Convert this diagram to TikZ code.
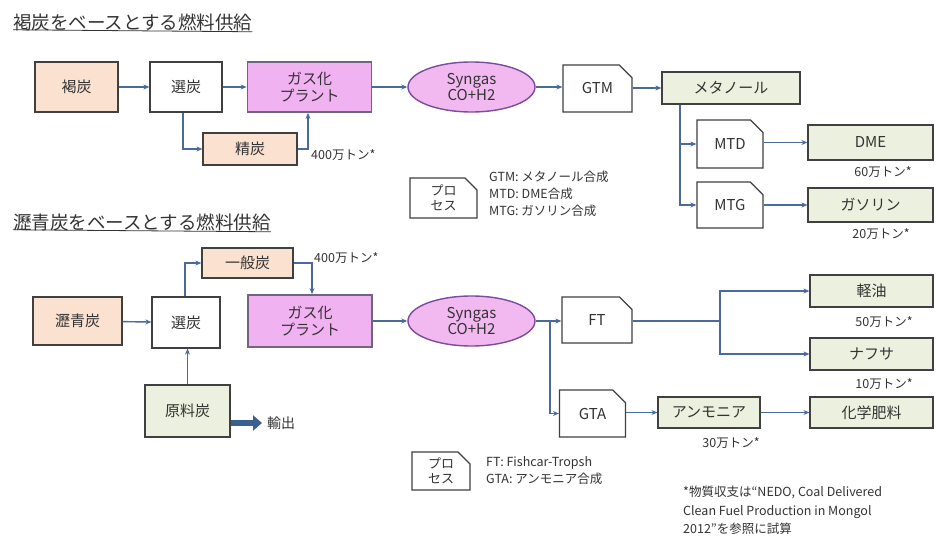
\documentclass[tikz,border=0pt]{standalone}
\usepackage{fontspec}
\setmainfont{Noto Sans CJK JP}
\usetikzlibrary{shapes.geometric,shapes.misc,arrows.meta}
\definecolor{peach}{HTML}{FBE2D0}
\definecolor{greenc}{HTML}{EBF1DE}
\definecolor{gasfill}{HTML}{F0B2F0}
\definecolor{gasborder}{HTML}{6F6482}
\definecolor{synfill}{HTML}{F2B8F0}
\definecolor{synborder}{HTML}{7A4C9C}
\definecolor{boxc}{HTML}{404040}
\definecolor{arrc}{HTML}{4A6A9C}
\definecolor{bigarr}{HTML}{3A5F92}
\definecolor{txt}{HTML}{333333}
\tikzset{
  x=1pt,y=-1pt,
  sz/.style 2 args={minimum width=#1pt,minimum height=#2pt},
  bx/.style={draw=boxc,line width=1.2pt,inner sep=0pt,text=txt,font=\fontsize{15}{17}\selectfont,align=center},
  peachbox/.style={bx,fill=peach},
  greenbox/.style={bx,fill=greenc},
  whitebox/.style={bx,fill=white},
  gasbox/.style={bx,fill=gasfill,draw=gasborder,line width=1.8pt},
  proc/.style={bx,fill=white,chamfered rectangle,chamfered rectangle corners=north east,chamfered rectangle xsep=7pt,chamfered rectangle ysep=7pt},
  syn/.style={ellipse,draw=synborder,fill=synfill,line width=1.4pt,inner sep=0pt,text=txt,font=\fontsize{15}{16}\selectfont,align=center},
  flow/.style={draw=arrc,line width=1.4pt,-{Stealth[length=6pt,width=5pt]}},
  plain/.style={draw=arrc,line width=1.4pt},
  bigflow/.style={draw=bigarr,line width=6pt,-{Triangle[length=9pt,width=15pt]}},
  lbl/.style={font=\fontsize{12.5}{14}\selectfont,text=txt,inner sep=0pt},
  ttl/.style={font=\fontsize{18.5}{20}\selectfont,text=txt,inner sep=0pt,anchor=west},
  legtxt/.style={font=\fontsize{12.5}{17}\selectfont,text=txt,inner sep=0pt,align=left,anchor=west},
}
\begin{document}
\begin{tikzpicture}
\useasboundingbox (0,0) rectangle (936,537);
\fill[white] (0,0) rectangle (936,537);

% titles
\node[ttl] (t1) at (13,22) {褐炭をベースとする燃料供給};
\draw[txt,line width=0.8pt] (t1.south west) ++(0,-1) -- ([yshift=-1pt]t1.south east);
\node[ttl] (t2) at (13,222) {瀝青炭をベースとする燃料供給};
\draw[txt,line width=0.8pt] (t2.south west) ++(0,-1) -- ([yshift=-1pt]t2.south east);

% ---------- top section ----------
\node[peachbox,sz={83}{50}] (kat) at (76.5,87) {褐炭};
\node[whitebox,sz={72}{50}] (sen1) at (186,87) {選炭};
\node[gasbox,sz={124}{50}] (gas1) at (309.5,87) {ガス化\\プラント};
\node[syn,sz={127}{50}] (syn1) at (471.5,87) {Syngas\\CO+H2};
\node[proc,sz={69}{47}] (gtm) at (597.5,88.5) {GTM};
\node[greenbox,sz={138}{32}] (meth) at (731,88) {メタノール};
\node[peachbox,sz={94}{32}] (sei) at (250,149) {精炭};
\node[lbl,anchor=west] (l400a) at (311,155) {400万トン*};
\node[proc,sz={66}{48}] (mtd) at (730,144) {MTD};
\node[greenbox,sz={125}{35}] (dme) at (870.5,142.5) {DME};
\node[lbl] (l60) at (883,172) {60万トン*};
\node[proc,sz={66}{46}] (mtg) at (730,205) {MTG};
\node[greenbox,sz={125}{34}] (gaso) at (870.5,205) {ガソリン};
\node[lbl] (l20) at (881,234) {20万トン*};

\draw[flow] (kat) -- (sen1);
\draw[flow] (sen1) -- (gas1);
\draw[flow] (gas1) -- (syn1);
\draw[flow] (syn1.east) -- (syn1.east -| gtm.west);
\draw[flow] (gtm.east |- meth.west) -- (meth.west);
\draw[flow] ([xshift=-3pt]sen1.south) |- (sei.west);
\draw[flow] (sei.east) -| ([xshift=-1.5pt]gas1.south);
\draw[flow] ([xshift=-51pt]meth.south) |- (mtd.west);
\draw[flow] ([xshift=-51pt]meth.south) |- (mtg.west);
\draw[flow] (mtd.east |- dme.west) -- (dme.west);
\draw[flow] (mtg.east) -- (gaso.west);

% legend 1
\node[proc,sz={67}{40},font=\fontsize{13}{15}\selectfont,chamfered rectangle xsep=6pt,chamfered rectangle ysep=6pt] (leg1) at (443.5,198) {プロ\\セス};
\node[legtxt] (leg1t) at (489,194) {GTM: メタノール合成\\MTD: DME合成\\MTG: ガソリン合成};

% ---------- bottom section ----------
\node[peachbox,sz={91}{30}] (ippan) at (247.5,263) {一般炭};
\node[lbl,anchor=west] (l400b) at (314,258) {400万トン*};
\node[peachbox,sz={89}{48}] (reki) at (77.5,321) {瀝青炭};
\node[whitebox,sz={68}{51}] (sen2) at (186,322.5) {選炭};
\node[gasbox,sz={124}{52}] (gas2) at (310,321) {ガス化\\プラント};
\node[syn,sz={127}{50}] (syn2) at (471.5,321) {Syngas\\CO+H2};
\node[greenbox,sz={85}{52}] (genryo) at (187.5,411) {原料炭};
\coordinate (exend) at (262,423);
\node[lbl,font=\fontsize{14}{16}\selectfont,anchor=west] (yu) at (267,423) {輸出};
\node[proc,sz={70}{46}] (ft) at (597,320) {FT};
\node[proc,sz={66}{47}] (gta) at (592.5,413.5) {GTA};
\node[greenbox,sz={123}{32}] (keiyu) at (871.5,291) {軽油};
\node[lbl] (l50) at (884,322) {50万トン*};
\node[greenbox,sz={123}{32}] (nafusa) at (871.5,354) {ナフサ};
\node[lbl] (l10) at (884,384) {10万トン*};
\node[greenbox,sz={102}{31}] (amm) at (709,412.5) {アンモニア};
\node[greenbox,sz={123}{31}] (kagaku) at (871.5,412.5) {化学肥料};
\node[lbl] (l30) at (731,443) {30万トン*};

\coordinate (br) at (550,321);
\coordinate (fb) at (720,321);
\draw[flow] (reki) -- (sen2);
\draw[flow] ([xshift=-1pt]sen2.north) |- (ippan.west);
\draw[flow] (ippan.east) -| ([xshift=2pt]gas2.north);
\draw[flow] (genryo.north) -- (genryo.north |- sen2.south);
\draw[flow] (gas2) -- (syn2);
\draw[flow] (syn2.east) -- (syn2.east -| ft.west);
\draw[flow] (br) |- (gta.west);
\draw[plain] (ft.east |- fb) -- (fb);
\draw[flow] (fb) |- (keiyu.west);
\draw[flow] (fb) |- (nafusa.west);
\draw[flow] (gta.east |- amm.west) -- (amm.west);
\draw[flow] (amm) -- (kagaku);
\draw[bigflow] (genryo.east |- exend) -- (exend);

% legend 2
\node[proc,sz={58}{38},font=\fontsize{13}{15}\selectfont,chamfered rectangle xsep=6pt,chamfered rectangle ysep=6pt] (leg2) at (441,471) {プロ\\セス};
\node[legtxt] (leg2t) at (486,471) {FT: Fishcar-Tropsh\\GTA: アンモニア合成};

% footnote
\node[legtxt,font=\fontsize{12.5}{18.5}\selectfont,anchor=north west] (foot) at (683,486) {*物質収支は“NEDO, Coal Delivered\\Clean Fuel Production in Mongol\\2012”を参照に試算};
\end{tikzpicture}
\end{document}
